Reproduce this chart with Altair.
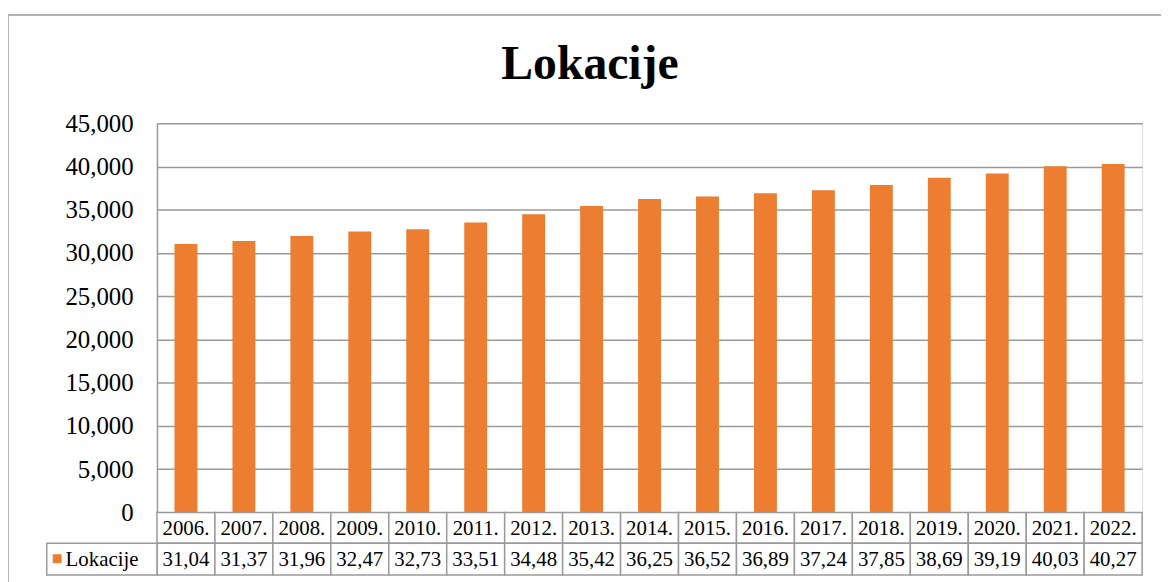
import altair as alt
import pandas as pd

years = ["2006", "2007", "2008", "2009", "2010", "2011", "2012", "2013", "2014",
         "2015", "2016", "2017", "2018", "2019", "2020", "2021", "2022"]
values = [31040, 31370, 31960, 32470, 32730, 33510, 34480, 35420, 36250,
          36520, 36890, 37240, 37850, 38690, 39190, 40030, 40270]
series_name = "Lokacije"
chart_title = "Lokacije"
y_ticks = [0, 5000, 10000, 15000, 20000, 25000, 30000, 35000, 40000, 45000]

ORANGE = "#ED7D31"
GRID = "#9A9A9A"
FONT = "Liberation Serif"
W, H = 992, 392
ROW1, ROW2, ROW3 = 392, 423, 455

df = pd.DataFrame({
    "year": [y + "." for y in years],
    "value": values,
    "table_label": [f"{v / 1000:.2f}".replace(".", ",") for v in values],
})
hdr = pd.DataFrame({"name": [series_name], "title": [chart_title]})

xscale = alt.Scale(paddingInner=0, paddingOuter=0)
xenc = alt.X("year:N", scale=xscale, axis=None, sort=None)

base = alt.Chart(df)

frame = alt.Chart(hdr).mark_rect(fill="transparent", stroke=GRID, strokeWidth=1.5).encode(
    x=alt.value(-150), x2=alt.value(W + 60), y=alt.value(-109), y2=alt.value(H + 120)
)

title_text = alt.Chart(hdr).mark_text(font=FONT, fontSize=48, fontWeight="bold",
                                      baseline="alphabetic", align="center",
                                      color="black").encode(
    x=alt.value(436), y=alt.value(-45), text="title:N"
)

bars = base.mark_bar(color=ORANGE, width=alt.RelativeBandSize(0.395)).encode(
    x=xenc,
    y=alt.Y("value:Q", scale=alt.Scale(domain=[0, 45000], nice=False),
            axis=alt.Axis(values=y_ticks, labelExpr="format(datum.value, ',')",
                          title=None, ticks=False,
                          domain=True, domainColor=GRID, domainWidth=1.5,
                          grid=True, gridColor=GRID, gridWidth=1.5,
                          labelFont=FONT, labelFontSize=25, labelColor="black",
                          labelPadding=24)),
)

cells1 = base.mark_rect(fill="white", stroke=GRID, strokeWidth=1.5).encode(
    x=xenc, y=alt.value(ROW1), y2=alt.value(ROW2)
)
cells2 = base.mark_rect(fill="white", stroke=GRID, strokeWidth=1.5).encode(
    x=xenc, y=alt.value(ROW2), y2=alt.value(ROW3)
)
year_text = base.mark_text(font=FONT, fontSize=21, baseline="alphabetic", color="black").encode(
    x=xenc, y=alt.value(415), text="year:N"
)
val_text = base.mark_text(font=FONT, fontSize=21, baseline="alphabetic", color="black").encode(
    x=xenc, y=alt.value(446), text="table_label:N"
)

hdr_cell = alt.Chart(hdr).mark_rect(fill="white", stroke=GRID, strokeWidth=1.5).encode(
    x=alt.value(-111), x2=alt.value(0), y=alt.value(ROW2), y2=alt.value(ROW3)
)
hdr_square = alt.Chart(hdr).mark_square(color=ORANGE, opacity=1, size=80).encode(
    x=alt.value(-100.5), y=alt.value(438.5)
)
hdr_text = alt.Chart(hdr).mark_text(font=FONT, fontSize=21, baseline="alphabetic",
                                    align="left", color="black").encode(
    x=alt.value(-92), y=alt.value(446), text="name:N"
)

chart = alt.layer(
    frame, title_text, bars, cells1, cells2, year_text, val_text, hdr_cell, hdr_square, hdr_text
).properties(
    width=W, height=H,
    autosize=alt.AutoSizeParams(type="none"),
    padding={"left": 150, "top": 114, "right": 19, "bottom": 68},
).configure_view(stroke=None).configure(font=FONT)

chart.save("out.html", embed_options={"renderer": "svg", "actions": False})
